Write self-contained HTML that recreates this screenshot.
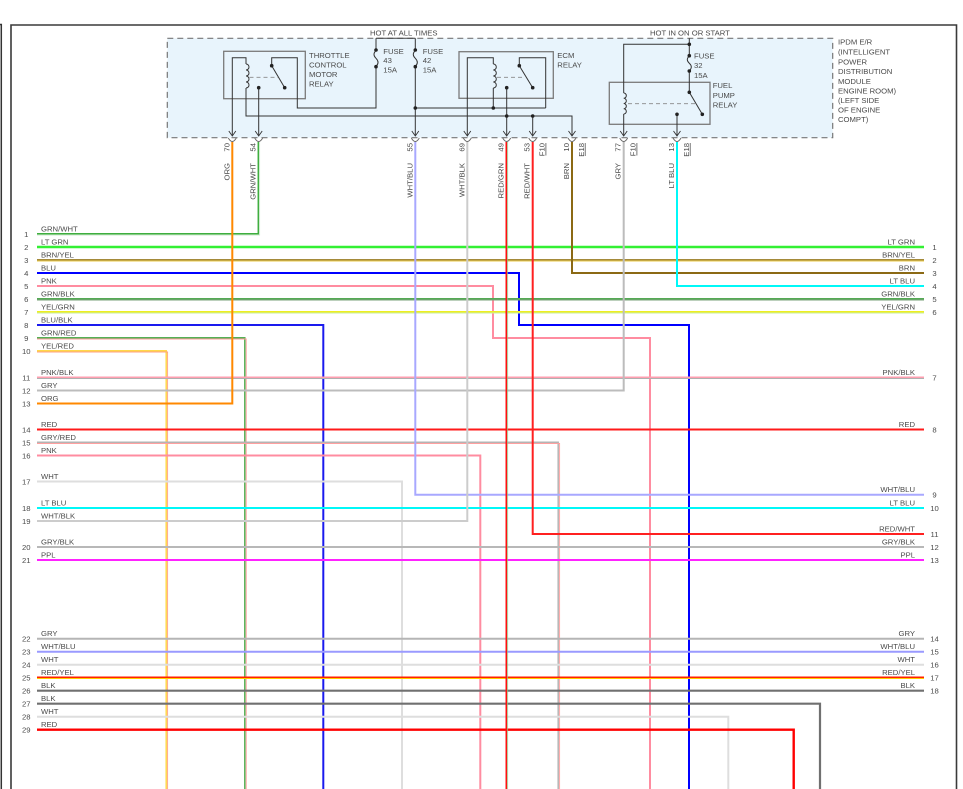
<!DOCTYPE html>
<html><head><meta charset="utf-8"><style>
html,body{margin:0;padding:0;background:#fff;}
svg{display:block;}
text{font-family:"Liberation Sans",Arial,sans-serif;font-size:7.7px;fill:#4a4a4a;}
</style></head><body>
<svg width="963" height="789" viewBox="0 0 963 789" xmlns="http://www.w3.org/2000/svg">
<!-- frame -->
<path d="M0,24.5 H1.3 V789" fill="none" stroke="#333" stroke-width="1.5"/>
<path d="M11,789 V25 H956.5 V789" fill="none" stroke="#3a3a3a" stroke-width="1.6"/>

<!-- IPDM box -->
<rect x="167.3" y="38.3" width="665.4" height="99.4" fill="#e8f4fc" stroke="#777" stroke-width="1.2" stroke-dasharray="6,4"/>
<line x1="376" y1="38.3" x2="415.3" y2="38.3" stroke="#444" stroke-width="1"/>

<text x="370" y="35.7">HOT AT ALL TIMES</text>
<text x="650" y="35.7">HOT IN ON OR START</text>

<g>
<text x="838" y="44.3">IPDM E/R</text>
<text x="838" y="54.7">(INTELLIGENT</text>
<text x="838" y="64.5">POWER</text>
<text x="838" y="74.2">DISTRIBUTION</text>
<text x="838" y="83.8">MODULE</text>
<text x="838" y="93.3">ENGINE ROOM)</text>
<text x="838" y="102.9">(LEFT SIDE</text>
<text x="838" y="112.5">OF ENGINE</text>
<text x="838" y="122.2">COMPT)</text>
</g>

<!-- relay boxes -->
<g fill="none" stroke="#7a7a7a" stroke-width="1.3">
<rect x="223.7" y="51.3" width="81.6" height="47.4"/>
<rect x="459" y="51.7" width="94.3" height="46.6"/>
<rect x="609.3" y="82.3" width="100.7" height="42"/>
</g>

<!-- internal circuit -->
<g fill="none" stroke="#333" stroke-width="1">
<polyline points="232.3,135 232.3,57.7 246,57.7 246,64"/>
<path d="M246,64 a3,3 0 0 1 0,6 a3,3 0 0 1 0,6 a3,3 0 0 1 0,6 a3,3 0 0 1 0,6"/>
<polyline points="246,88 246,116 572,116 572,135"/>
<polyline points="271.7,65.7 271.7,57.7 297.3,57.7 297.3,108 376,108 376,66.7"/>
<line x1="271.7" y1="65.7" x2="284.7" y2="87.7"/>
<line x1="258.7" y1="87.7" x2="258.7" y2="135"/>
<line x1="376" y1="38.3" x2="376" y2="50"/>
<path d="M376,50.5 Q372,54.5 376,58.3 Q380,62.3 376,66.5"/>
<line x1="415.3" y1="38.3" x2="415.3" y2="50"/>
<path d="M415.3,50.5 Q411.3,54.5 415.3,58.3 Q419.3,62.3 415.3,66.5"/>
<line x1="415.3" y1="66.7" x2="415.3" y2="135"/>
<line x1="415.3" y1="108" x2="545.7" y2="108"/>
<polyline points="467.3,135 467.3,57.7 493.3,57.7 493.3,64"/>
<path d="M493.3,64 a3,3 0 0 1 0,6 a3,3 0 0 1 0,6 a3,3 0 0 1 0,6 a3,3 0 0 1 0,6"/>
<line x1="493.3" y1="88" x2="493.3" y2="108"/>
<polyline points="519.3,65.7 519.3,57.7 545.7,57.7 545.7,108"/>
<line x1="519.3" y1="65.7" x2="532.7" y2="87.7"/>
<line x1="506.7" y1="87.7" x2="506.7" y2="135"/>
<line x1="532.7" y1="116" x2="532.7" y2="135"/>
<line x1="689.3" y1="38.3" x2="689.3" y2="55.7"/>
<polyline points="689.3,44.3 623.7,44.3 623.7,93"/>
<path d="M623.7,93 a2.6,2.6 0 0 1 0,5.25 a2.6,2.6 0 0 1 0,5.25 a2.6,2.6 0 0 1 0,5.25 a2.6,2.6 0 0 1 0,5.25"/>
<line x1="623.7" y1="114" x2="623.7" y2="135"/>
<path d="M689.3,56 Q685.3,59.7 689.3,63.3 Q693.3,67 689.3,70.8"/>
<line x1="689.3" y1="71" x2="689.3" y2="92.3"/>
<line x1="689.3" y1="92.3" x2="702.3" y2="114.3"/>
<line x1="677" y1="114.3" x2="677" y2="135"/>
</g>
<g fill="none" stroke="#888" stroke-width="0.9" stroke-dasharray="4,3">
<line x1="249.5" y1="77.3" x2="278" y2="77.3"/>
<line x1="497" y1="77.3" x2="525" y2="77.3"/>
<line x1="628" y1="103.7" x2="695" y2="103.7"/>
</g>
<g fill="#222">
<circle cx="271.7" cy="65.7" r="1.8"/><circle cx="284.7" cy="87.7" r="1.8"/><circle cx="258.7" cy="87.7" r="1.8"/>
<circle cx="376" cy="50" r="1.8"/><circle cx="376" cy="66.7" r="1.8"/>
<circle cx="415.3" cy="50" r="1.8"/><circle cx="415.3" cy="66.7" r="1.8"/><circle cx="415.3" cy="108" r="1.8"/>
<circle cx="493.3" cy="108" r="1.8"/><circle cx="519.3" cy="65.7" r="1.8"/><circle cx="532.7" cy="87.7" r="1.8"/>
<circle cx="506.7" cy="87.7" r="1.8"/><circle cx="506.7" cy="116" r="1.8"/><circle cx="532.7" cy="116" r="1.8"/>
<circle cx="689.3" cy="44.3" r="1.8"/><circle cx="689.3" cy="55.7" r="1.8"/><circle cx="689.3" cy="71" r="1.8"/>
<circle cx="689.3" cy="92.3" r="1.8"/><circle cx="702.3" cy="114.3" r="1.8"/><circle cx="677" cy="114.3" r="1.8"/>
</g>

<!-- box labels -->
<text x="309" y="58">THROTTLE</text>
<text x="309" y="67.5">CONTROL</text>
<text x="309" y="77">MOTOR</text>
<text x="309" y="86.5">RELAY</text>
<text x="383.3" y="54">FUSE</text>
<text x="383.3" y="63">43</text>
<text x="383.3" y="72.7">15A</text>
<text x="422.7" y="54">FUSE</text>
<text x="422.7" y="63">42</text>
<text x="422.7" y="72.7">15A</text>
<text x="557.3" y="58">ECM</text>
<text x="557.3" y="67.5">RELAY</text>
<text x="694" y="58.3">FUSE</text>
<text x="694" y="68">32</text>
<text x="694" y="78">15A</text>
<text x="712.7" y="88">FUEL</text>
<text x="712.7" y="98">PUMP</text>
<text x="712.7" y="107.3">RELAY</text>

<!-- arrows and connector arcs -->
<g fill="none" stroke="#333" stroke-width="0.9">
<path d="M228.8,131 L232.3,136 L235.8,131 M255.2,131 L258.7,136 L262.2,131 M411.8,131 L415.3,136 L418.8,131 M463.8,131 L467.3,136 L470.8,131 M503.2,131 L506.7,136 L510.2,131 M529.2,131 L532.7,136 L536.2,131 M568.5,131 L572,136 L575.5,131 M620.2,131 L623.7,136 L627.2,131 M673.5,131 L677,136 L680.5,131"/>
</g>
<g fill="none" stroke="#666" stroke-width="0.9">
<path d="M228.3,138 Q232.3,145 236.3,138 M254.7,138 Q258.7,145 262.7,138 M411.3,138 Q415.3,145 419.3,138 M463.3,138 Q467.3,145 471.3,138 M502.7,138 Q506.7,145 510.7,138 M528.7,138 Q532.7,145 536.7,138 M568,138 Q572,145 576,138 M619.7,138 Q623.7,145 627.7,138 M673,138 Q677,145 681,138"/>
</g>

<!-- pin numbers and wire labels (rotated) -->
<g text-anchor="end">
<text transform="translate(229.3,143) rotate(-90)">70</text>
<text transform="translate(229.3,163) rotate(-90)">ORG</text>
<text transform="translate(255.7,143) rotate(-90)">54</text>
<text transform="translate(255.7,163) rotate(-90)">GRN/WHT</text>
<text transform="translate(412.3,143) rotate(-90)">55</text>
<text transform="translate(412.3,163) rotate(-90)">WHT/BLU</text>
<text transform="translate(464.3,143) rotate(-90)">69</text>
<text transform="translate(464.3,163) rotate(-90)">WHT/BLK</text>
<text transform="translate(503.7,143) rotate(-90)">49</text>
<text transform="translate(503.7,163) rotate(-90)">RED/GRN</text>
<text transform="translate(529.7,143) rotate(-90)">53</text>
<text transform="translate(529.7,163) rotate(-90)">RED/WHT</text>
<text transform="translate(569,143) rotate(-90)">10</text>
<text transform="translate(569,163) rotate(-90)">BRN</text>
<text transform="translate(620.7,143) rotate(-90)">77</text>
<text transform="translate(620.7,163) rotate(-90)">GRY</text>
<text transform="translate(674,143) rotate(-90)">13</text>
<text transform="translate(674,163) rotate(-90)">LT BLU</text>
<text transform="translate(544.7,143) rotate(-90)">F10</text>
<text transform="translate(584,143) rotate(-90)">E18</text>
<text transform="translate(635.7,143) rotate(-90)">F10</text>
<text transform="translate(689,143) rotate(-90)">E18</text>
</g>
<g stroke="#555" stroke-width="0.8">
<line x1="545.9" y1="143" x2="545.9" y2="155.5"/>
<line x1="585.2" y1="143" x2="585.2" y2="156"/>
<line x1="636.9" y1="143" x2="636.9" y2="155.5"/>
<line x1="690.2" y1="143" x2="690.2" y2="156"/>
</g>

<!-- wires -->
<g fill="none" stroke-width="2" stroke-linejoin="miter">
<polyline points="37,233.7 258.3,233.7 258.3,142" stroke="#3fae3f" stroke-width="1.5"/>
<polyline points="37,235 259.6,235 259.6,142" stroke="#cde9cd" stroke-width="0.9"/>
<polyline points="37,247 924,247" stroke="#33f033" stroke-width="2.5"/>
<polyline points="37,259.7 924,259.7" stroke="#a48a3a" stroke-width="1.5"/>
<polyline points="37,261 924,261" stroke="#e8c84a" stroke-width="0.9"/>
<polyline points="572,142 572,273 924,273" stroke="#8b6914"/>
<polyline points="37,273 519,273 519,325 689,325 689,789" stroke="#0000ff"/>
<polyline points="677,142 677,286 924,286" stroke="#00f8f8"/>
<polyline points="37,286 493,286 493,338 650,338 650,789" stroke="#ff8ca0"/>
<polyline points="37,298.7 924,298.7" stroke="#55aa55" stroke-width="1.5"/>
<polyline points="37,300 924,300" stroke="#7aa07a" stroke-width="0.9"/>
<polyline points="37,311.7 924,311.7" stroke="#eeee20" stroke-width="1.5"/>
<polyline points="37,313 924,313" stroke="#c8eea0" stroke-width="0.9"/>
<polyline points="37,325 323.3,325 323.3,789" stroke="#1a1aee"/>
<polyline points="37,337.7 244.8,337.7 244.8,789" stroke="#55b055" stroke-width="1.5"/>
<polyline points="37,339 246.2,339 246.2,789" stroke="#ff9a9a" stroke-width="0.9"/>
<polyline points="37,350.7 166.2,350.7 166.2,789" stroke="#ffd84a" stroke-width="1.5"/>
<polyline points="37,352 167.6,352 167.6,789" stroke="#ffa080" stroke-width="0.9"/>
<polyline points="37,377.2 924,377.2" stroke="#ff9fb0" stroke-width="1.5"/>
<polyline points="37,378.5 924,378.5" stroke="#b0b0b0" stroke-width="0.9"/>
<polyline points="37,390.5 623.7,390.5 623.7,142" stroke="#bcbcbc"/>
<polyline points="37,403.5 232.3,403.5 232.3,142" stroke="#ff8800"/>
<polyline points="37,429.5 924,429.5" stroke="#ff1a1a"/>
<polyline points="37,442.2 558.2,442.2 558.2,789" stroke="#b4b4b4" stroke-width="1.5"/>
<polyline points="37,443.5 559.6,443.5 559.6,789" stroke="#ffa0a0" stroke-width="0.9"/>
<polyline points="37,455.5 480.3,455.5 480.3,789" stroke="#ff8ca0"/>
<polyline points="37,481.5 402,481.5 402,789" stroke="#dedede"/>
<polyline points="415.3,142 415.3,494.7 924,494.7" stroke="#a8a8ff"/>
<polyline points="37,508 924,508" stroke="#00f8f8"/>
<polyline points="37,521 467.3,521 467.3,142" stroke="#cccccc"/>
<polyline points="532.7,142 532.7,534 924,534" stroke="#ff2020"/>
<polyline points="37,547 924,547" stroke="#b8b8b8"/>
<polyline points="37,560 924,560" stroke="#ff22ff"/>
<polyline points="37,638.7 924,638.7" stroke="#b5b5b5"/>
<polyline points="37,651.7 924,651.7" stroke="#9a9aff"/>
<polyline points="37,664.7 924,664.7" stroke="#dedede"/>
<polyline points="37,677.2 924,677.2" stroke="#ff2200" stroke-width="1.5"/>
<polyline points="37,678.5 924,678.5" stroke="#ffcc00" stroke-width="0.9"/>
<polyline points="37,690.7 924,690.7" stroke="#707070" stroke-width="2.2"/>
<polyline points="37,703.7 820,703.7 820,789" stroke="#707070" stroke-width="2.2"/>
<polyline points="37,716.7 728.3,716.7 728.3,789" stroke="#dedede"/>
<polyline points="37,729.7 793.7,729.7 793.7,789" stroke="#ff0000" stroke-width="2.4"/>
<polyline points="506.3,142 506.3,789" stroke="#ff1010" stroke-width="1.6"/>
<polyline points="507.7,142 507.7,789" stroke="#88cc88" stroke-width="0.7"/>
</g>

<!-- left labels -->
<g>
<text x="41" y="231.3">GRN/WHT</text>
<text x="41" y="244.3">LT GRN</text>
<text x="41" y="257.3">BRN/YEL</text>
<text x="41" y="270.3">BLU</text>
<text x="41" y="283.3">PNK</text>
<text x="41" y="296.3">GRN/BLK</text>
<text x="41" y="309.3">YEL/GRN</text>
<text x="41" y="322.3">BLU/BLK</text>
<text x="41" y="335.3">GRN/RED</text>
<text x="41" y="348.3">YEL/RED</text>
<text x="41" y="374.8">PNK/BLK</text>
<text x="41" y="387.8">GRY</text>
<text x="41" y="400.8">ORG</text>
<text x="41" y="426.8">RED</text>
<text x="41" y="439.8">GRY/RED</text>
<text x="41" y="452.8">PNK</text>
<text x="41" y="478.8">WHT</text>
<text x="41" y="505.3">LT BLU</text>
<text x="41" y="518.3">WHT/BLK</text>
<text x="41" y="544.3">GRY/BLK</text>
<text x="41" y="557.3">PPL</text>
<text x="41" y="636">GRY</text>
<text x="41" y="649">WHT/BLU</text>
<text x="41" y="662">WHT</text>
<text x="41" y="675">RED/YEL</text>
<text x="41" y="688">BLK</text>
<text x="41" y="701">BLK</text>
<text x="41" y="714">WHT</text>
<text x="41" y="727">RED</text>
</g>
<g text-anchor="middle">
<text x="26.3" y="236.8">1</text>
<text x="26.3" y="249.8">2</text>
<text x="26.3" y="262.8">3</text>
<text x="26.3" y="275.8">4</text>
<text x="26.3" y="288.8">5</text>
<text x="26.3" y="301.8">6</text>
<text x="26.3" y="314.8">7</text>
<text x="26.3" y="327.8">8</text>
<text x="26.3" y="340.8">9</text>
<text x="26.3" y="353.8">10</text>
<text x="26.3" y="380.3">11</text>
<text x="26.3" y="393.3">12</text>
<text x="26.3" y="406.3">13</text>
<text x="26.3" y="432.3">14</text>
<text x="26.3" y="445.3">15</text>
<text x="26.3" y="458.3">16</text>
<text x="26.3" y="484.3">17</text>
<text x="26.3" y="510.8">18</text>
<text x="26.3" y="523.8">19</text>
<text x="26.3" y="549.8">20</text>
<text x="26.3" y="562.8">21</text>
<text x="26.3" y="641.5">22</text>
<text x="26.3" y="654.5">23</text>
<text x="26.3" y="667.5">24</text>
<text x="26.3" y="680.5">25</text>
<text x="26.3" y="693.5">26</text>
<text x="26.3" y="706.5">27</text>
<text x="26.3" y="719.5">28</text>
<text x="26.3" y="732.5">29</text>
</g>

<!-- right labels -->
<g text-anchor="end">
<text x="915" y="244.3">LT GRN</text>
<text x="915" y="257.3">BRN/YEL</text>
<text x="915" y="270.3">BRN</text>
<text x="915" y="283.3">LT BLU</text>
<text x="915" y="296.3">GRN/BLK</text>
<text x="915" y="309.3">YEL/GRN</text>
<text x="915" y="374.8">PNK/BLK</text>
<text x="915" y="426.8">RED</text>
<text x="915" y="492">WHT/BLU</text>
<text x="915" y="505.3">LT BLU</text>
<text x="915" y="531.3">RED/WHT</text>
<text x="915" y="544.3">GRY/BLK</text>
<text x="915" y="557.3">PPL</text>
<text x="915" y="636">GRY</text>
<text x="915" y="649">WHT/BLU</text>
<text x="915" y="662">WHT</text>
<text x="915" y="675">RED/YEL</text>
<text x="915" y="688">BLK</text>
</g>
<g text-anchor="middle">
<text x="934.5" y="249.8">1</text>
<text x="934.5" y="262.8">2</text>
<text x="934.5" y="275.8">3</text>
<text x="934.5" y="288.8">4</text>
<text x="934.5" y="301.8">5</text>
<text x="934.5" y="314.8">6</text>
<text x="934.5" y="380.3">7</text>
<text x="934.5" y="432.3">8</text>
<text x="934.5" y="497.5">9</text>
<text x="934.5" y="510.8">10</text>
<text x="934.5" y="536.8">11</text>
<text x="934.5" y="549.8">12</text>
<text x="934.5" y="562.8">13</text>
<text x="934.5" y="641.5">14</text>
<text x="934.5" y="654.5">15</text>
<text x="934.5" y="667.5">16</text>
<text x="934.5" y="680.5">17</text>
<text x="934.5" y="693.5">18</text>
</g>
</svg>
</body></html>
